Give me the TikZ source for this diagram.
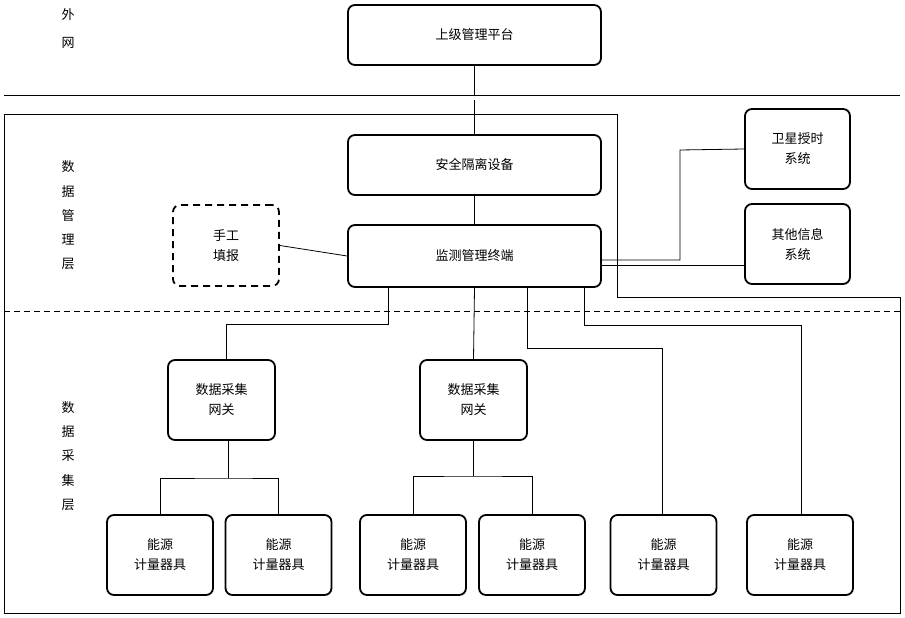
\documentclass[tikz,border=0pt]{standalone}
\usepackage{fontspec}
\setmainfont{Noto Sans CJK SC}
\begin{document}
\begin{tikzpicture}[x=1pt,y=-1pt,
  box/.style={draw,line width=1.8pt,rounded corners=7pt,align=center,font=\fontsize{13}{20}\selectfont,inner sep=0pt},
  conn/.style={line width=0.8pt},
  lbl/.style={font=\fontsize{13}{16}\selectfont}]
\useasboundingbox (0,0) rectangle (905,618);
% frame lines
\draw[conn] (4,95) -- (900,95);
\draw[conn] (4,114) -- (617,114) -- (617,297) -- (900,297) -- (900,613) -- (4,613) -- cycle;
\draw[conn,dashed,dash pattern=on 6pt off 4pt] (4,311) -- (900,311);
% nodes
\node[box,minimum width=253,minimum height=60] (plat) at (474.5,35) {上级管理平台};
\node[box,minimum width=253,minimum height=60] (iso) at (474.5,165) {安全隔离设备};
\node[box,minimum width=253,minimum height=62] (term) at (474.5,256) {监测管理终端};
\node[box,dashed,dash pattern=on 7pt off 5pt,minimum width=106,minimum height=81] (manual) at (226,245.5) {手工\\填报};
\node[box,minimum width=105,minimum height=80] (sat) at (797.5,149) {卫星授时\\系统};
\node[box,minimum width=105,minimum height=80] (oth) at (797.5,244) {其他信息\\系统};
\node[box,minimum width=107,minimum height=80] (gw1) at (221.5,400) {数据采集\\网关};
\node[box,minimum width=107,minimum height=80] (gw2) at (473.5,400) {数据采集\\网关};
\foreach \i/\x in {1/160,2/278.5,3/413,4/532,5/663.5,6/800}
  \node[box,minimum width=106,minimum height=80] (m\i) at (\x,555) {能源\\计量器具};
% labels
\node[lbl] (w1) at (68,15) {外};
\node[lbl] (w2) at (68,43) {网};
\foreach \t/\y [count=\k] in {数/167,据/192,管/216,理/240,层/264}
  \node[lbl] (a\k) at (68,\y) {\t};
\foreach \t/\y [count=\k] in {数/408,据/432,采/456,集/481,层/505}
  \node[lbl] (b\k) at (68,\y) {\t};
% connectors
\coordinate (c1) at (474.5,95);
\coordinate (c2) at (474.5,100);
\draw[conn] (plat.south) -- (c1);
\draw[conn] (c2) -- (iso.north);
\draw[conn] (iso.south) -- (term.north);
\draw[conn] (manual.east) -- (term.west);
\draw[conn] ([yshift=-4pt]term.east) -| (680,150) -- (sat.west);
\draw[conn] (601,265) -- (oth.west |- 0,265);
\draw[conn] (388,287) |- (226,324) -- (gw1.north -| 226,0);
\draw[conn] (term.south) -- (gw2.north);
\draw[conn] (527,287) |- (662,348) -- (m5.north -| 662,0);
\draw[conn] (584,287) |- (801,325) -- (m6.north -| 801,0);
\draw[conn] (gw1.south -| 228,0) -- (228,478);
\draw[conn] (m1.north) |- (228,478) -| (m2.north);
\draw[conn] (gw2.south) -- (473.5,476);
\draw[conn] (m3.north) |- (473.5,476) -| (m4.north);
\end{tikzpicture}
\end{document}
